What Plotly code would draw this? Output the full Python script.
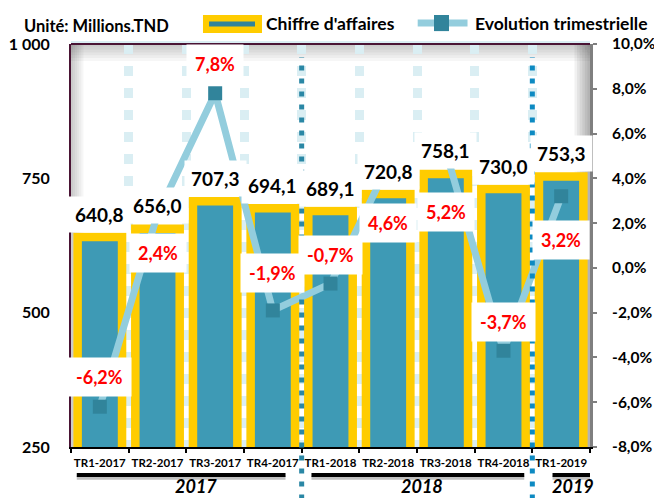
import plotly.graph_objects as go

# ---------------- data ----------------
categories = ["TR1-2017", "TR2-2017", "TR3-2017", "TR4-2017",
              "TR1-2018", "TR2-2018", "TR3-2018", "TR4-2018", "TR1-2019"]
chiffre_affaires = [640.8, 656.0, 707.3, 694.1, 689.1, 720.8, 758.1, 730.0, 753.3]
evolution_pct = [-6.2, 2.4, 7.8, -1.9, -0.7, 4.6, 5.2, -3.7, 3.2]
year_labels = ["2017", "2018", "2019"]
left_ticks = [250, 500, 750, 1000]
right_ticks = [-8, -6, -4, -2, 0, 2, 4, 6, 8, 10]

# ---------------- styles / layout helpers ----------------
FONT = "Lato"
GOLD = "#FFCC00"
TEAL = "#3E9AB5"
DARK_TEAL = "#31849B"
LIGHT_BLUE = "#93CDDD"
GRID = "#DAEEF3"
MAROON = "#4A1434"

ca_label_shift = 23                                   # px above bar top
pct_label_shift = [30, -39, 29, 37, 29, -58, -61, 29, -44]  # px (+ up)
year_line_extent = [(-0.4, 3.22), (3.67, 7.36), (7.85, 8.70)]
year_label_pos = [(1.67, -0.097), (5.59, -0.097), (8.2, -0.097)]
separators_x = [(3.5, "#2A87A5"), (7.5, "#0D8AC2")]


def fr(v, suffix=""):
    return f"{v:.1f}".replace(".", ",") + suffix


fig = go.Figure()

fig.add_trace(go.Bar(
    x=categories, y=chiffre_affaires, name="Chiffre d'affaires",
    marker=dict(color=TEAL, line=dict(color=GOLD, width=8.5)),
    width=0.77, showlegend=False, hoverinfo="skip",
))

fig.add_trace(go.Scatter(
    x=categories, y=evolution_pct, name="Evolution trimestrielle", yaxis="y2",
    mode="lines+markers",
    line=dict(color=LIGHT_BLUE, width=7),
    marker=dict(symbol="square", size=14, color=DARK_TEAL),
    showlegend=False, hoverinfo="skip",
))

annotations = []
for c, v in zip(categories, chiffre_affaires):
    annotations.append(dict(
        x=c, y=v, xref="x", yref="y", text=fr(v), showarrow=False,
        yanchor="middle", yshift=ca_label_shift, bgcolor="white", borderpad=6,
        font=dict(family=FONT, size=19, color="black", weight="bold"),
    ))
for c, p, s in zip(categories, evolution_pct, pct_label_shift):
    annotations.append(dict(
        x=c, y=p, xref="x", yref="y2", text=fr(p, "%"), showarrow=False,
        yanchor="middle", yshift=s, bgcolor="white", borderpad=8,
        font=dict(family=FONT, size=18, color="#FF0000", weight="bold"),
    ))

# title / unit
annotations.append(dict(
    x=-0.095, y=1.045, xref="paper", yref="paper", xanchor="left", yanchor="middle",
    text="Unité: Millions.TND", showarrow=False,
    font=dict(family=FONT, size=16.5, color="black", weight="bold"),
))
# legend texts
annotations.append(dict(
    x=0.372, y=1.052, xref="paper", yref="paper", xanchor="left", yanchor="middle",
    text="Chiffre d'affaires", showarrow=False,
    font=dict(family=FONT, size=17.5, color="black", weight="bold"),
))
annotations.append(dict(
    x=0.775, y=1.052, xref="paper", yref="paper", xanchor="left", yanchor="middle",
    text="Evolution trimestrielle", showarrow=False,
    font=dict(family=FONT, size=17.5, color="black", weight="bold"),
))
# year labels
for yl, (xp, yp) in zip(year_labels, year_label_pos):
    annotations.append(dict(
        x=xp, y=yp, xref="x", yref="paper", xanchor="center", yanchor="middle",
        text=f"<i>{yl}</i>", showarrow=False,
        font=dict(family=FONT, size=18, color="black", weight="bold"),
    ))

shapes = []
# inner shadow of plot area
for i in range(6):
    a = 0.035
    shapes.append(dict(type="rect", xref="paper", yref="paper", layer="below",
                       x0=0, x1=1, y0=1 - 0.007 * (i + 1), y1=1,
                       fillcolor=f"rgba(0,0,0,{a})", line_width=0))
    shapes.append(dict(type="rect", xref="paper", yref="paper", layer="below",
                       x0=0, x1=0.004 * (i + 1), y0=0, y1=1,
                       fillcolor=f"rgba(0,0,0,{a})", line_width=0))
    shapes.append(dict(type="rect", xref="paper", yref="paper", layer="below",
                       x0=1 - 0.005 * (i + 1), x1=1, y0=0, y1=1,
                       fillcolor=f"rgba(0,0,0,{a + 0.02})", line_width=0))
# top border
shapes.append(dict(type="line", xref="paper", yref="paper", x0=0, x1=1, y0=1.004, y1=1.004,
                   line=dict(color=GRID, width=3)))
shapes.append(dict(type="line", xref="paper", yref="paper", x0=0, x1=1, y0=1, y1=1,
                   line=dict(color=MAROON, width=2)))
# separators
for xs, col in separators_x:
    shapes.append(dict(type="line", xref="x", yref="paper", x0=xs, x1=xs, y0=-0.13, y1=0.968,
                       line=dict(color=col, width=5, dash="5px,8px"), layer="above"))
# year underlines
for x0, x1 in year_line_extent:
    shapes.append(dict(type="line", xref="x", yref="paper", x0=x0, x1=x1, y0=-0.076, y1=-0.076,
                       line=dict(color="#BFBFBF", width=4)))
    shapes.append(dict(type="line", xref="x", yref="paper", x0=x0, x1=x1, y0=-0.0695, y1=-0.0695,
                       line=dict(color="black", width=4)))
# custom legend
shapes.append(dict(type="rect", xref="paper", yref="paper", x0=0.2543, x1=0.368, y0=1.027, y1=1.072,
                   fillcolor=GOLD, line_width=0))
shapes.append(dict(type="line", xref="paper", yref="paper", x0=0.266, x1=0.3545, y0=1.0496, y1=1.0496,
                   line=dict(color=DARK_TEAL, width=5)))
shapes.append(dict(type="line", xref="paper", yref="paper", x0=0.668, x1=0.764, y0=1.052, y1=1.052,
                   line=dict(color=LIGHT_BLUE, width=7)))
shapes.append(dict(type="rect", xref="paper", yref="paper", x0=0.6994, x1=0.7283, y0=1.032, y1=1.072,
                   fillcolor=DARK_TEAL, line_width=0))

fig.update_layout(
    width=654, height=498,
    margin=dict(l=71, r=64, t=44, b=51, autoexpand=False),
    paper_bgcolor="white", plot_bgcolor="white",
    separators=", ",
    showlegend=False,
    bargap=0.2,
    xaxis=dict(
        type="category", tickson="boundaries", automargin=False, tickangle=0,
        showgrid=True, gridcolor=GRID, gridwidth=9, griddash="10px,12px",
        showline=True, linecolor="black", linewidth=2,
        ticks="outside", ticklen=4, tickcolor="black", tickwidth=2,
        tickfont=dict(family=FONT, size=11.5, color="black", weight="bold"),
        ticklabelstandoff=4,
        range=[-0.5, 8.5],
    ),
    yaxis=dict(
        range=[250, 1000], tickvals=left_ticks, tickformat=",.0f", automargin=False,
        showgrid=False, zeroline=False,
        showline=True, linecolor=MAROON, linewidth=2,
        ticks="", ticklabelstandoff=16,
        tickfont=dict(family=FONT, size=16, color="black", weight="bold"),
    ),
    yaxis2=dict(
        overlaying="y", side="right", range=[-8, 10], automargin=False,
        tickvals=right_ticks, ticktext=[fr(v, "%") for v in right_ticks],
        showgrid=False, zeroline=False,
        showline=True, linecolor="#7F7F7F", linewidth=3,
        ticks="outside", ticklen=4, tickcolor="#7F7F7F", tickwidth=2,
        ticklabelstandoff=12,
        tickfont=dict(family=FONT, size=15.5, color="black", weight="bold"),
    ),
    annotations=annotations,
    shapes=shapes,
)

fig.write_html(
    "out.html",
    config={"displayModeBar": False},
    post_script="document.body.style.margin='0';document.body.style.overflow='hidden';",
)
